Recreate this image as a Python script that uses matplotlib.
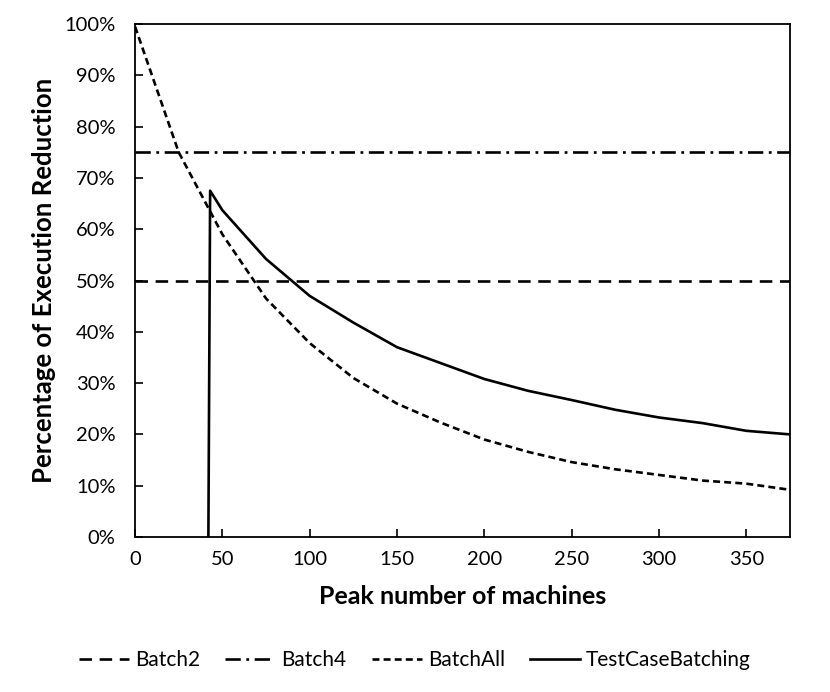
import matplotlib
matplotlib.use("Agg")
import matplotlib.pyplot as plt
from matplotlib.ticker import FuncFormatter, MultipleLocator

plt.rcParams['font.family'] = ['Lato', 'DejaVu Sans']
plt.rcParams['lines.scale_dashes'] = False

# peak number of machines
machines = [0, 25, 50, 75, 100, 125, 150, 175, 200, 225, 250, 275, 300, 325, 350, 375]
batch_all = [99.5, 75.0, 59.0, 46.5, 37.8, 31.0, 26.0, 22.3, 19.0, 16.6, 14.6, 13.2, 12.1, 11.0, 10.4, 9.2]

tcb_machines = [42, 43, 50, 75, 100, 125, 150, 175, 200, 225, 250, 275, 300, 325, 350, 375]
tcb_values = [0, 67.5, 63.7, 54.2, 47.0, 41.8, 37.0, 33.9, 30.8, 28.5, 26.7, 24.8, 23.3, 22.2, 20.7, 20.0]

batch2 = 50
batch4 = 75

fig = plt.figure(figsize=(8.3, 6.92), dpi=100)
ax = fig.add_axes([0.1627, 0.224, 0.789, 0.7413])

lw = 1.9
ax.axhline(batch2, color='black', lw=lw, linestyle=(0, (9, 5.5)), label='Batch2')
ax.axhline(batch4, color='black', lw=lw, linestyle=(0, (11, 4, 2, 4)), label='Batch4')
ax.plot(machines, batch_all, color='black', lw=lw, linestyle=(0, (5, 3)), label='BatchAll')
ax.plot(tcb_machines, tcb_values, color='black', lw=lw, linestyle='-', label='TestCaseBatching')

ax.set_xlim(0, 375)
ax.set_ylim(0, 100)
ax.xaxis.set_major_locator(MultipleLocator(50))
ax.yaxis.set_major_locator(MultipleLocator(10))
ax.yaxis.set_major_formatter(FuncFormatter(lambda v, p: f"{v:.0f}%"))
ax.tick_params(direction='in', length=6, width=1.2, labelsize=14.5)
ax.tick_params(axis='y', pad=14)
ax.tick_params(axis='x', pad=10)
for s in ax.spines.values():
    s.set_linewidth(1.3)

ax.set_xlabel('Peak number of machines', fontsize=18, fontweight='bold', labelpad=12)
ax.set_ylabel('Percentage of Execution Reduction', fontsize=18.5, fontweight='bold', labelpad=6)

fig.legend(loc='center', bbox_to_anchor=(0.5, 0.046), ncol=4, frameon=False,
           fontsize=15, handlelength=2.4, columnspacing=1.2, handletextpad=0.3)

fig.savefig('out.png', dpi=100)
